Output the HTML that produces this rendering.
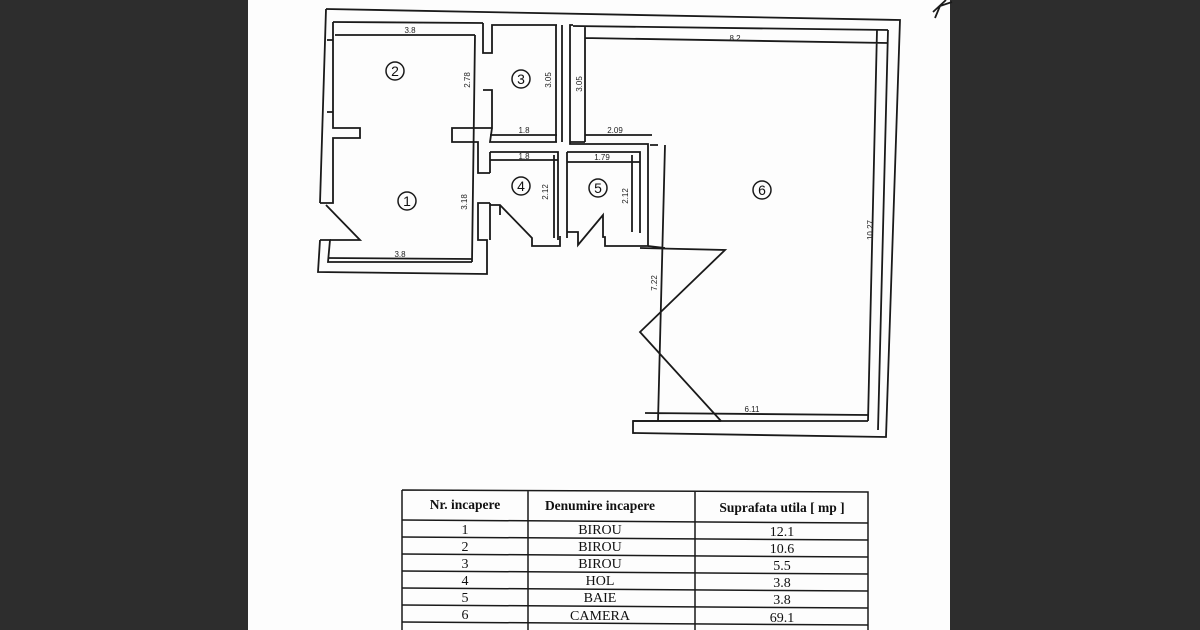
<!DOCTYPE html>
<html><head><meta charset="utf-8"><style>
html,body{margin:0;padding:0;width:1200px;height:630px;overflow:hidden;background:#2d2d2d}
svg{position:absolute;left:0;top:0}
</style></head><body>
<svg width="1200" height="630" viewBox="0 0 1200 630" xmlns="http://www.w3.org/2000/svg" font-family="Liberation Sans, sans-serif">
<rect x="0" y="0" width="1200" height="630" fill="#2d2d2d"/>
<rect x="248" y="0" width="702" height="630" fill="#fdfdfd"/>
<g fill="none" stroke="#1a1a1a" stroke-width="1.8">
<path d="M326,9 L900,20 L886,437 L633,433 L633,421 L721,421"/>
<path d="M326,9 L320,203"/>
<path d="M327,40 L333,40 M327,112 L333,112 M333,22 L333,128 L360,128 L360,138 L333,138 L333,203 L320,203"/>
<path d="M326,205 L360,240 L330,240"/>
<path d="M320,240 L330,240 L328,262 L472,262 M320,240 L318,272 L487,274 L487,240 L478,240 L478,203 L490,203"/>
<path d="M328,258 L472,259"/>
<path d="M333,22 L483,23 M335,35 L475,35"/>
<path d="M475,35 L472,262 M483,23 L483,53 L492,53 L492,25 L557,25 M483,90 L492,90 L492,128 L452,128 L452,142 L478,142 L478,173 L490,173 M492,128 L490,142 L557,142"/>
<path d="M490,135 L557,135"/>
<path d="M556,25 L556,142 M562,25 L562,142"/>
<path d="M490,152 L558,152 L558,240 M490,160 L558,160 M554,155 L554,238"/>
<path d="M490,205 L500,205 L532,238 L532,246 L560,246 L560,236 M500,205 L500,215"/>
<path d="M490,173 L490,152 M490,203 L490,240"/>
<path d="M567,152 L567,238"/>
<path d="M567,152 L640,152 L640,233 M567,162 L640,162 M632,155 L632,232"/>
<path d="M567,232 L578,232 L578,245 L603,215 L603,237 L605,237 L605,246 L648,246 L648,144 L570,144 L570,25 L573,25"/>
<path d="M573,26 L888,30 M585,38 L888,43 M585,26 L585,142 M570,142 L585,142 M585,135 L652,135 M877,30 L868,421 M888,30 L878,430 M650,145 L658,145"/>
<path d="M648,246 L665,248 M665,145 L658,421 M633,421 L868,421 M645,413 L868,415"/>
<path d="M640,248 L725,250 L640,332 L721,421"/>
<path d="M933,12 L946,0 M940,6 L952,2 M940,6 L935,18"/>
</g>
<g fill="none" stroke="#1a1a1a" stroke-width="1.5">
<circle cx="395" cy="71" r="9"/><circle cx="521" cy="79" r="9"/>
<circle cx="407" cy="201" r="9"/><circle cx="521" cy="186" r="9"/>
<circle cx="598" cy="188" r="9"/><circle cx="762" cy="190" r="9"/>
</g>
<g font-size="14" text-anchor="middle" fill="#111">
<text x="395" y="76">2</text><text x="521" y="84">3</text><text x="407" y="206">1</text>
<text x="521" y="191">4</text><text x="598" y="193">5</text><text x="762" y="195">6</text>
</g>
<g font-size="8" fill="#222" text-anchor="middle">
<text x="410" y="33">3.8</text><text x="524" y="133">1.8</text><text x="524" y="159">1.8</text>
<text x="602" y="160">1.79</text><text x="615" y="133">2.09</text><text x="735" y="41">8.2</text>
<text x="400" y="257">3.8</text><text x="752" y="412">6.11</text>
<text transform="translate(470,80) rotate(-90)">2.78</text>
<text transform="translate(551,80) rotate(-90)">3.05</text>
<text transform="translate(582,84) rotate(-90)">3.05</text>
<text transform="translate(467,202) rotate(-90)">3.18</text>
<text transform="translate(548,192) rotate(-90)">2.12</text>
<text transform="translate(628,196) rotate(-90)">2.12</text>
<text transform="translate(873,230) rotate(-90)">10.27</text>
<text transform="translate(657,283) rotate(-90)">7.22</text>
</g>
<g stroke="#1a1a1a" stroke-width="1.5" fill="none">
<path d="M402,490 L868,492 L868,630 M402,490 L402,630 M528,490 L528,630 M695,491 L695,630"/>
<path d="M402,520 L868,523 M402,537 L868,540 M402,554 L868,557 M402,571 L868,574 M402,588 L868,591 M402,605 L868,608 M402,622 L868,625"/>
</g>
<g font-family="Liberation Serif, serif" font-size="14" fill="#111" text-anchor="middle">
<g font-weight="bold" font-size="13.5"><text x="465" y="509">Nr. incapere</text><text x="600" y="510">Denumire  incapere</text><text x="782" y="512">Suprafata utila [ mp ]</text></g>
<text x="465" y="534">1</text><text x="600" y="534">BIROU</text><text x="782" y="536">12.1</text>
<text x="465" y="551">2</text><text x="600" y="551">BIROU</text><text x="782" y="553">10.6</text>
<text x="465" y="568">3</text><text x="600" y="568">BIROU</text><text x="782" y="570">5.5</text>
<text x="465" y="585">4</text><text x="600" y="585">HOL</text><text x="782" y="587">3.8</text>
<text x="465" y="602">5</text><text x="600" y="602">BAIE</text><text x="782" y="604">3.8</text>
<text x="465" y="619">6</text><text x="600" y="620">CAMERA</text><text x="782" y="622">69.1</text>
</g>
</svg>
</body></html>
